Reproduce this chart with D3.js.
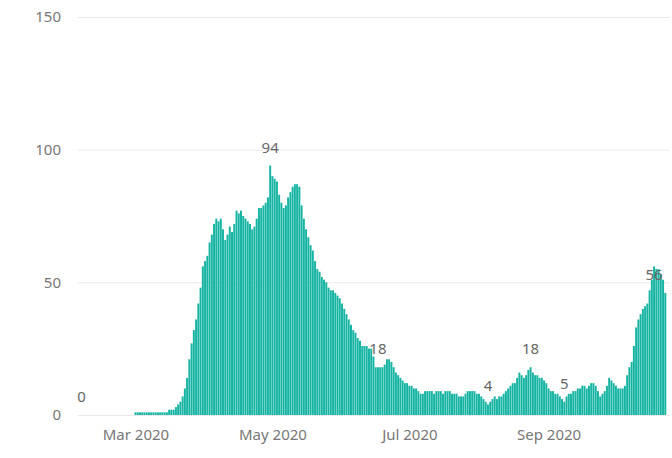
<!DOCTYPE html>
<html>
<head>
<meta charset="utf-8">
<script src="https://cdn.jsdelivr.net/npm/d3@7"></script>
<style>
  body { margin: 0; background: #fff; }
  svg text { font-family: "Noto Sans", "Open Sans", sans-serif; }
</style>
</head>
<body>
<svg id="chart" width="672" height="458"></svg>
<script>
// daily values, one array per month (first day of the series is Feb 6 2020)
const febValues = [0,0,0,0,0,0,0,0,0,0,0,0,0,0,0,0,0,0,0,0,0,0,0,0];
const marValues = [1,1,1,1,1,1,1,1,1,1, 1,1,1,1,1,2,2,2,3,4, 5,7,10,14,21,27,32,36,42,48, 56];
const aprValues = [58,60,65,68,72,74,73,74,70, 66,68,71,69,72,77,76,77,75,74, 73,72,70,71,74,78,78,79,80,82, 94];
const mayValues = [90,89,88,83,80,78,79,82,84,86, 87,87,86,79,74,70,67,64,62,58, 55,54,52,51,50,48,47,47,46,45, 44];
const junValues = [42,40,38,36,34,32,31,29,28,26, 26,26,25,25,22,18,18,18,18,19, 21,21,20,18,16,15,14,13,12,12];
const julValues = [11,11,10,10,9,8,8,9,9,9, 9,8,9,9,9,8,9,9,9,8, 8,8,7,7,7,8,9,9,9,9, 8];
const augValues = [8,7,6,5,4,5,6,7,6,7, 7,8,9,10,11,12,12,14,16,15, 14,15,17,18,16,15,15,14,14,13, 12];
const sepValues = [10,9,9,8,8,7,6,5,7,8, 8,9,9,10,10,11,11,10,11,12, 12,11,9,7,8,9,11,14,13,12];
const octValues = [11,10,10,10,11,15,18,20,26,33, 36,38,40,41,42,47,51,56,55,55, 53,51,46];

const firstDay = new Date(2020, 1, 6);
const monthTicks = ["2020-03-01", "2020-05-01", "2020-07-01", "2020-09-01"];
const yTicks = [0, 50, 100, 150];
const labelDays = ["2020-02-06", "2020-04-30", "2020-06-17", "2020-08-05", "2020-08-24", "2020-09-08", "2020-10-18"];

const values = [].concat(febValues, marValues, aprValues, mayValues, junValues,
                         julValues, augValues, sepValues, octValues);
const data = values.map((v, i) => ({ date: d3.timeDay.offset(firstDay, i), value: v }));

const parse = d3.timeParse("%Y-%m-%d");
const svg = d3.select("#chart");

const plotLeft = 78, plotRight = 669.8, plotTop = 17, plotBottom = 415;

const x = d3.scaleTime()
  .domain([new Date(2020, 1, 4), new Date(2020, 9, 25)])
  .range([plotLeft - 0.9, plotRight]);

const y = d3.scaleLinear()
  .domain([0, 150])
  .range([plotBottom, plotTop]);

const step = x(new Date(2020, 2, 2)) - x(new Date(2020, 2, 1));
const barW = step * 0.88;

// y axis with gridlines
svg.append("g")
  .attr("transform", `translate(${plotLeft},0)`)
  .call(d3.axisLeft(y).tickValues(yTicks).tickSize(-(plotRight - plotLeft)).tickPadding(17))
  .call(g => g.select(".domain").remove())
  .call(g => g.selectAll(".tick line").attr("stroke", "#e9e9e9"))
  .call(g => g.selectAll(".tick text")
    .attr("fill", "#777").style("font-size", "15px"));

// bars
svg.append("g")
  .selectAll("rect")
  .data(data)
  .join("rect")
  .attr("x", d => x(d.date) - barW / 2)
  .attr("width", barW)
  .attr("y", d => y(d.value))
  .attr("height", d => y(0) - y(d.value))
  .attr("fill", "#17b4a3");

// x axis
svg.append("g")
  .attr("transform", `translate(0,${plotBottom})`)
  .call(d3.axisBottom(x)
    .tickValues(monthTicks.map(parse))
    .tickFormat(d3.timeFormat("%b %Y"))
    .tickSize(0)
    .tickPadding(14))
  .call(g => g.select(".domain").remove())
  .call(g => g.selectAll(".tick text")
    .attr("fill", "#777").style("font-size", "15px"));

// data labels
const labelled = labelDays.map(s => {
  const t = +parse(s);
  return data.find(d => +d.date === t);
});

svg.append("g")
  .selectAll("text")
  .data(labelled)
  .join("text")
  .attr("x", d => x(d.date))
  .attr("y", (d, i) => i === labelled.length - 1 ? y(d.value) + 14 : y(d.value) - 13)
  .attr("text-anchor", "middle")
  .attr("fill", "#666")
  .style("font-size", "15px")
  .text(d => d.value);
</script>
</body>
</html>
